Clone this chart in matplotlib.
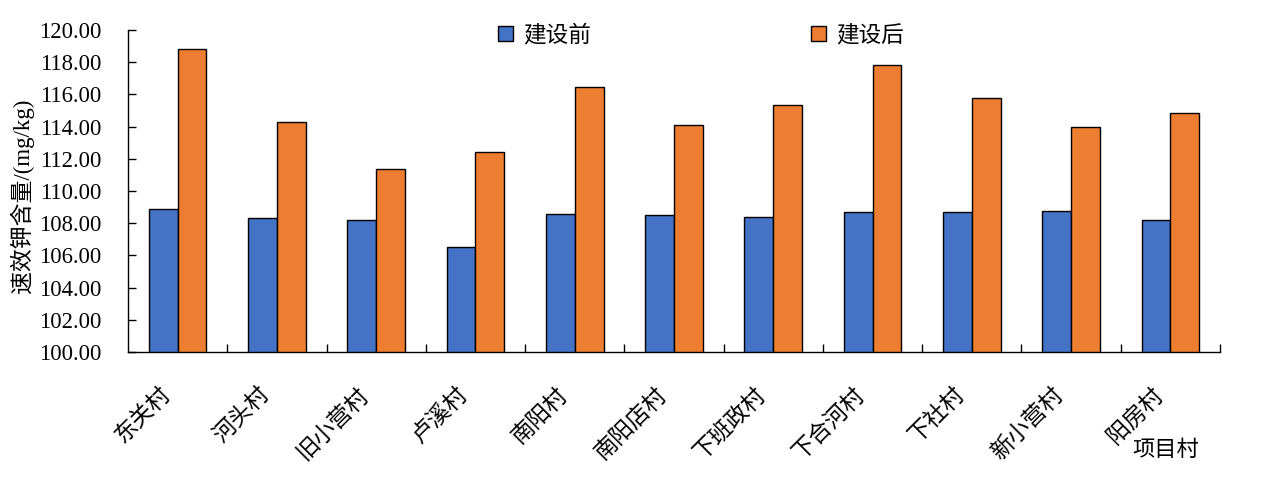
import matplotlib
matplotlib.use("Agg")
import matplotlib.pyplot as plt
import matplotlib.transforms as mtransforms
import numpy as np
from matplotlib.patches import Patch
from matplotlib.ticker import FixedLocator, FormatStrFormatter

villages = ["东关村", "河头村", "旧小营村", "卢溪村", "南阳村", "南阳店村",
            "下班政村", "下合河村", "下社村", "新小营村", "阳房村"]
before = [108.88, 108.30, 108.20, 106.55, 108.59, 108.51, 108.40, 108.71, 108.71, 108.78, 108.20]
after = [118.80, 114.27, 111.35, 112.42, 116.44, 114.10, 115.36, 117.80, 115.75, 113.99, 114.86]
series_names = ["建设前", "建设后"]
yticks = [100, 102, 104, 106, 108, 110, 112, 114, 116, 118, 120]

BLUE = "#4472C4"
ORANGE = "#ED7D31"
plt.rcParams["font.family"] = ["Liberation Serif", "Noto Sans CJK SC", "DejaVu Sans"]
CJK = ["Noto Sans CJK SC", "DejaVu Sans"]

fig = plt.figure(figsize=(12.7, 4.86), dpi=100)
ax = fig.add_axes([128/1270, 1-352/486, (1220-128)/1270, (352-30)/486])

x = np.arange(len(villages))
w = 0.29
ax.bar(x - w/2, before, w, color=BLUE, edgecolor="black", linewidth=1.0, zorder=2)
ax.bar(x + w/2, after, w, color=ORANGE, edgecolor="black", linewidth=1.0, zorder=2)

ax.set_xlim(-0.5, len(villages) - 0.5)
ax.set_ylim(100, 120)
ax.set_yticks(yticks)
ax.yaxis.set_major_formatter(FormatStrFormatter("%.2f"))
ax.tick_params(axis="y", direction="in", length=6, width=1, pad=19, labelsize=16.3)

ax.set_xticks(x)
ax.set_xticklabels(villages, rotation=45, ha="right", va="center",
                   rotation_mode="anchor", fontfamily=CJK, fontsize=16.5)
ax.tick_params(axis="x", which="major", length=0, pad=28)
shift = mtransforms.ScaledTranslation(-11/100, 0, fig.dpi_scale_trans)
for lab in ax.get_xticklabels():
    lab.set_transform(lab.get_transform() + shift)
ax.xaxis.set_minor_locator(FixedLocator(np.arange(0.5, len(villages) + 0.5, 1.0)))
ax.tick_params(axis="x", which="minor", direction="in", length=6, width=1)

for s in ["top", "right"]:
    ax.spines[s].set_visible(False)
for s in ["left", "bottom"]:
    ax.spines[s].set_linewidth(1.0)

fig.text(22/1270, 1-196/486, "速效钾含量/(mg/kg)", rotation=90, ha="center", va="center",
         fontsize=16.5)
fig.text(1166/1270, 1-449/486, "项目村", ha="center", va="center", fontsize=16, fontfamily=CJK)

handles = [Patch(facecolor=BLUE, edgecolor="black", linewidth=1.0),
           Patch(facecolor=ORANGE, edgecolor="black", linewidth=1.0)]
fig.legend(handles, series_names, loc="center", bbox_to_anchor=(701/1270, 1-35/486),
           ncol=2, frameon=False, prop={"family": CJK, "size": 16.3},
           handlelength=0.65, handleheight=0.65, handletextpad=0.45, columnspacing=9.7)

fig.savefig("out.png", dpi=100)
